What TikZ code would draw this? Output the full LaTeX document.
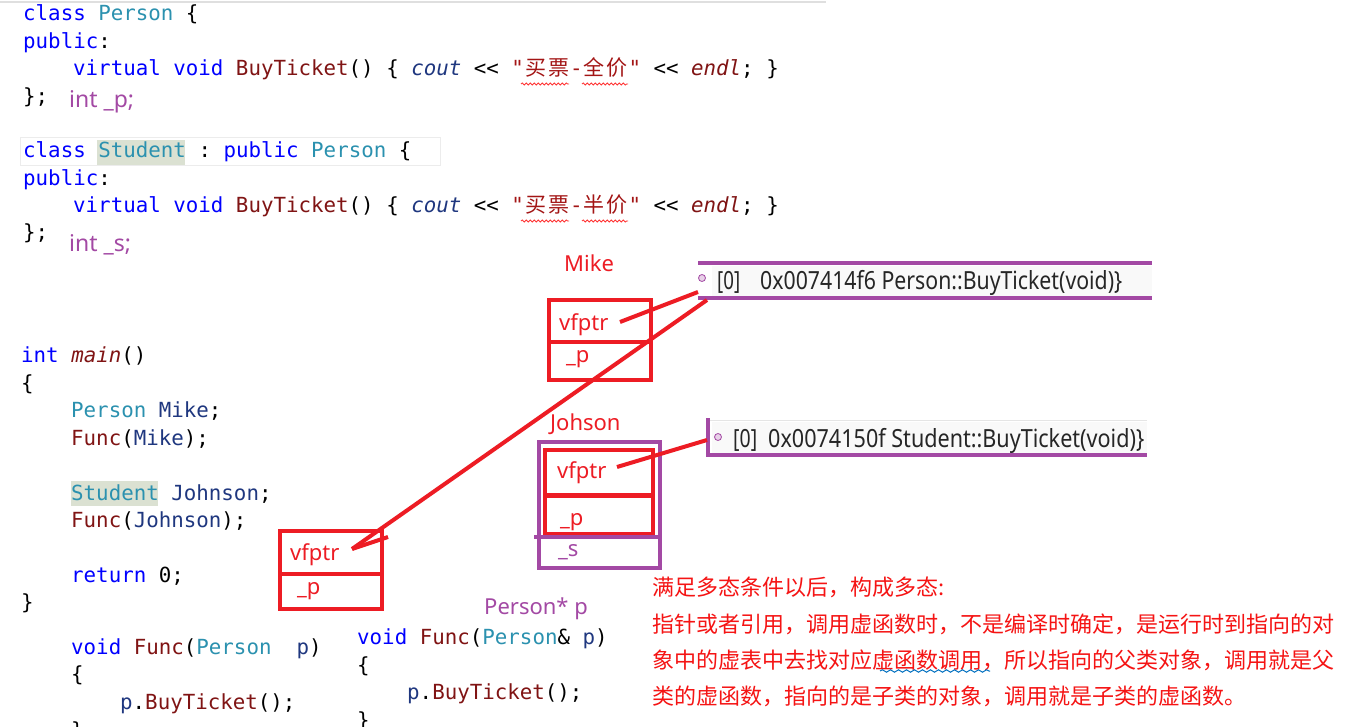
\documentclass[tikz,border=0pt]{standalone}
\usepackage{fontspec}
\usepackage{graphicx}
\setmainfont{Noto Sans}
\setmonofont{DejaVu Sans Mono}
\newfontfamily\cjk{Noto Sans CJK SC}
\usetikzlibrary{decorations.pathmorphing}
\definecolor{kw}{RGB}{0,0,255}
\definecolor{ty}{RGB}{43,145,175}
\definecolor{fn}{RGB}{128,20,20}
\definecolor{vr}{RGB}{31,55,127}
\definecolor{stc}{RGB}{163,21,21}
\definecolor{ln}{RGB}{237,28,36}
\definecolor{pu}{RGB}{163,73,164}
\definecolor{hl}{RGB}{219,225,210}
\definecolor{txr}{RGB}{245,20,20}
\definecolor{wavb}{RGB}{0,112,192}
\newcommand\codefont{\ttfamily\fontsize{20.8}{27}\selectfont}
\newcommand\ckw[1]{\textcolor{kw}{#1}}
\newcommand\cty[1]{\textcolor{ty}{#1}}
\newcommand\cfn[1]{\textcolor{fn}{#1}}
\newcommand\cvr[1]{\textcolor{vr}{#1}}
\newcommand\cst[1]{\textcolor{stc}{#1}}
\newcommand\cj[1]{\makebox[23pt]{\cjk\fontsize{21}{21}\selectfont #1}}
\begin{document}
\begin{tikzpicture}[x=1pt,y=-1pt,
  code/.style={anchor=base west,inner sep=0pt,font=\codefont},
  sans/.style={anchor=base west,inner sep=0pt,font=\fontsize{22}{26}\selectfont},
  redbox/.style={draw=ln,line width=4pt,inner sep=0pt,anchor=north west},
  purbox/.style={draw=pu,line width=3.5pt,inner sep=0pt,anchor=north west},
  ptr/.style={draw=ln,line width=4pt},
  vtline/.style={draw=pu,line width=3.5pt},
  icon/.style={circle,draw=pu,line width=0.8pt,fill=pu!25,inner sep=0pt,minimum size=7pt},
  redwave/.style={draw=red!80,line width=0.8pt,decorate,decoration={snake,amplitude=1.1pt,segment length=4pt}},
  bluewave/.style={draw=wavb,line width=1pt,decorate,decoration={snake,amplitude=1.2pt,segment length=8pt}}]

\useasboundingbox (0,0) rectangle (1354,727);
\fill[white] (0,0) rectangle (1354,727);
\draw[gray!25,line width=2pt] (0,2) -- (826,2);

% ---------- class Person ----------
\node[code] (l1) at (23,21) {\ckw{class} \cty{Person} \{};
\node[code] (l2) at (23,49) {\ckw{public}:};
\node[code] (l3) at (73,76) {\ckw{virtual} \ckw{void} \cfn{BuyTicket}() \{ \textcolor{vr}{\itshape cout} <{}< \cst{"\cj{买}\cj{票}-\cj{全}\cj{价}"} <{}< \textcolor{fn}{\itshape endl}; \}};
\node[code] (l4) at (23,104) {\};};
\node[sans,text=pu,font=\fontsize{23}{26}\selectfont] (ip) at (69,108) {int \_p;};
\draw[redwave] (521,84) -- (569,84);
\draw[redwave] (582,84) -- (628,84);

% ---------- class Student ----------
\draw[gray!15,line width=1pt] (20,138) rectangle (440,166);
\fill[hl] (97,140) rectangle (185,165);
\node[code] (l5) at (23,158) {\ckw{class} \cty{Student} : \ckw{public} \cty{Person} \{};
\node[code] (l6) at (23,186) {\ckw{public}:};
\node[code] (l7) at (73,213) {\ckw{virtual} \ckw{void} \cfn{BuyTicket}() \{ \textcolor{vr}{\itshape cout} <{}< \cst{"\cj{买}\cj{票}-\cj{半}\cj{价}"} <{}< \textcolor{fn}{\itshape endl}; \}};
\node[code] (l8) at (23,240) {\};};
\node[sans,text=pu,font=\fontsize{23}{26}\selectfont] (is) at (69,252) {int \_s;};
\draw[redwave] (521,221) -- (569,221);
\draw[redwave] (582,221) -- (628,221);

% ---------- main ----------
\fill[hl] (71,481) rectangle (158,506);
\node[code] (m1) at (21,362) {\ckw{int} \textcolor{fn}{\itshape main}()};
\node[code] (m2) at (21,390) {\{};
\node[code] (m3) at (71,417) {\cty{Person} \cvr{Mike};};
\node[code] (m4) at (71,445) {\cfn{Func}(\cvr{Mike});};
\node[code] (m5) at (71,500) {\cty{Student} \cvr{Johnson};};
\node[code] (m6) at (71,527) {\cfn{Func}(\cvr{Johnson});};
\node[code] (m7) at (71,582) {\ckw{return} 0;};
\node[code] (m8) at (21,609) {\}};

% ---------- Func (left) ----------
\node[code] (f1) at (71,654) {\ckw{void} \cfn{Func}(\cty{Person}~~\cvr{p})};
\node[code] (f2) at (71,681) {\{};
\node[code] (f3) at (120,709) {\cvr{p}.\cfn{BuyTicket}();};
\node[code] (f4) at (71,737) {\}};

% ---------- Func (right) ----------
\node[sans,text=pu,font=\fontsize{22}{26}\selectfont] (pp) at (484,614) {Person* p};
\node[code] (g1) at (357,644) {\ckw{void} \cfn{Func}(\cty{Person}\& \cvr{p})};
\node[code] (g2) at (357,672) {\{};
\node[code] (g3) at (407,699) {\cvr{p}.\cfn{BuyTicket}();};
\node[code] (g4) at (357,727) {\}};

% ---------- Mike object ----------
\node[sans,text=ln] (mike) at (564,272) {Mike};
\node[redbox,minimum width=102pt,minimum height=42pt] (mikev) at (547,298) {};
\node[redbox,minimum width=102pt,minimum height=38pt] (mikep) at (547,340) {};
\node[sans,text=ln] (mikevt) at (559,330) {vfptr};
\node[sans,text=ln] (mikept) at (566,362) {\_p};

% ---------- Johson object ----------
\node[sans,text=ln] (joh) at (550,430) {Johson};
\node[purbox,minimum width=121pt,minimum height=126pt] (johout) at (537,440) {};
\node[redbox,minimum width=108pt,minimum height=45pt] (johv) at (543,448) {};
\node[redbox,minimum width=108pt,minimum height=38pt] (johp) at (543,494) {};
\draw[vtline] (534,537) -- (659,537);
\node[sans,text=ln] (johvt) at (557,478) {vfptr};
\node[sans,text=ln] (johpt) at (560,525) {\_p};
\node[sans,text=pu] (johst) at (558,556) {\_s};

% ---------- object in Func ----------
\node[redbox,minimum width=102pt,minimum height=43pt] (funcv) at (278,529) {};
\node[redbox,minimum width=102pt,minimum height=35pt] (funcp) at (278,572) {};
\node[sans,text=ln] (funcvt) at (290,560) {vfptr};
\node[sans,text=ln] (funcpt) at (297,594) {\_p};

% ---------- vtable 1 ----------
\fill[gray!5] (712,266) rectangle (1152,296);
\draw[vtline] (698,263) -- (1152,263);
\draw[vtline] (698,298) -- (1152,298);
\node[icon] (ic1) at (702,278) {};
\node[anchor=base west,inner sep=0pt,font=\fontsize{25}{28}\selectfont,text=black!85] (vt1i) at (717,290) {\resizebox{23pt}{\height}{[0]}};
\node[anchor=base west,inner sep=0pt,font=\fontsize{25}{28}\selectfont,text=black!85] (vt1t) at (760,290) {\resizebox{362pt}{\height}{0x007414f6 Person::BuyTicket(void)\}}};

% ---------- vtable 2 ----------
\fill[gray!5] (712,422) rectangle (1147,453);
\draw[gray!20,line width=1pt] (708,420) -- (1147,420);
\draw[vtline] (708,418) -- (708,457);
\draw[vtline] (708,455) -- (1147,455);
\node[icon] (ic2) at (718,437) {};
\node[anchor=base west,inner sep=0pt,font=\fontsize{25}{28}\selectfont,text=black!85] (vt2i) at (733,447) {\resizebox{24pt}{\height}{[0]}};
\node[anchor=base west,inner sep=0pt,font=\fontsize{25}{28}\selectfont,text=black!85] (vt2t) at (768,447) {\resizebox{376pt}{\height}{0x0074150f Student::BuyTicket(void)\}}};

% ---------- pointers ----------
\coordinate (mikeptr) at (620,322);
\coordinate (vt1a) at (698,292);
\coordinate (funcptr) at (352,549);
\coordinate (vt1b) at (707,300);
\coordinate (funcstk) at (388,537);
\coordinate (johptr) at (617,467);
\coordinate (vt2a) at (707,440);
\draw[ptr] (mikeptr) -- (vt1a);
\draw[ptr] (funcptr) -- (vt1b);
\draw[ptr] (funcptr) -- (funcstk);
\draw[ptr] (johptr) -- (vt2a);

% ---------- explanation ----------
\begin{scope}[every node/.style={anchor=base west,inner sep=0pt,text=txr,font=\cjk\fontsize{22}{26}\selectfont}]
\node (c1) at (652,595) {满足多态条件以后，构成多态:};
\node (c2) at (652,632) {指针或者引用，调用虚函数时，不是编译时确定，是运行时到指向的对};
\node (c3) at (652,668) {象中的虚表中去找对应虚函数调用，所以指向的父类对象，调用就是父};
\node (c4) at (652,704) {类的虚函数，指向的是子类的对象，调用就是子类的虚函数。};
\end{scope}
\draw[bluewave] (880,671) -- (990,671);
\end{tikzpicture}
\end{document}
